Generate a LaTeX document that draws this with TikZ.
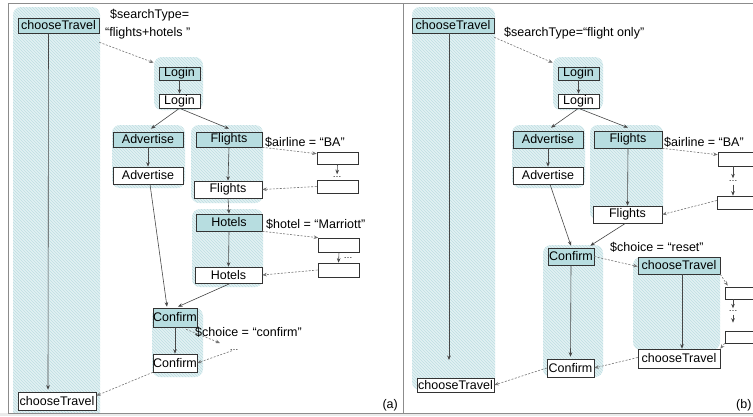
\documentclass[tikz,border=0pt]{standalone}
\usepackage{fontspec}
\setmainfont{Liberation Sans}
\usetikzlibrary{patterns,arrows.meta}

\begin{document}
\begin{tikzpicture}[x=1pt, y=-1pt,
  state/.style={draw=black!80, line width=0.6pt, inner sep=0pt, font=\fontsize{12.5}{14}\selectfont},
  act/.style={state, fill=stepfill},
  slot/.style={draw=black!80, line width=0.6pt, inner sep=0pt, minimum width=41, minimum height=13},
  flow/.style={->, >={Stealth[length=4.5pt,width=3.6pt]}, draw=black!72, line width=0.6pt},
  bind/.style={->, >={Stealth[length=4.5pt,width=3.6pt]}, draw=black!55, line width=0.6pt, dash pattern=on 2pt off 1.5pt},
  binding/.style={anchor=west, inner sep=0pt, font=\fontsize{12.5}{14}\selectfont},
  dots/.style={inner sep=0pt, font=\fontsize{9}{9}\selectfont},
  region/.style={fill=hatchbg, rounded corners=8pt, postaction={pattern=north west lines, pattern color=hatchln}}]

\definecolor{stepfill}{RGB}{183,221,224}
\definecolor{hatchbg}{RGB}{226,241,243}
\definecolor{hatchln}{RGB}{190,222,226}
\useasboundingbox (0,0) rectangle (753,416);

\fill[black!8] (0,413) rectangle (753,416);

\begin{scope}
\clip (8,3) rectangle (753,413);
\path[region] (13,7) rectangle (100,430);
\path[region] (154,57) rectangle (203,110);
\path[region] (112,125) rectangle (185,188);
\path[region] (191,125) rectangle (263,203);
\path[region] (192,209) rectangle (263,287);
\path[region] (152,308) rectangle (203,377);
\path[region] (412,7) rectangle (495,390);
\path[region] (553,57) rectangle (603,110);
\path[region] (512,125) rectangle (585,188);
\path[region] (590,125) rectangle (663,220);
\path[region] (543,245) rectangle (603,377);
\path[region] (633,257) rectangle (720,350);
\end{scope}

\draw[black!45, line width=0.8pt] (8,3) rectangle (760,413);
\draw[black!45, line width=0.8pt] (403,3) -- (403,413);

\node[act, minimum width=81, minimum height=15] (a_ct1) at (58.5,25.5) {chooseTravel};
\node[state, fill=white, minimum width=78, minimum height=18] (a_ct2) at (57,401) {chooseTravel};
\node[act, minimum width=41, minimum height=13] (a_lg1) at (179.5,73.5) {Login};
\node[state, fill=white, minimum width=41, minimum height=14] (a_lg2) at (179.5,101) {Login};
\node[act, minimum width=70, minimum height=15] (a_ad1) at (148,139.5) {Advertise};
\node[state, fill=white, minimum width=70, minimum height=17] (a_ad2) at (148,175.5) {Advertise};
\node[act, minimum width=66, minimum height=15] (a_fl1) at (229,139.5) {Flights};
\node[state, fill=white, minimum width=68, minimum height=17] (a_fl2) at (228,189.5) {Flights};
\node[act, minimum width=66, minimum height=17] (a_ho1) at (229,222.5) {Hotels};
\node[state, fill=white, minimum width=67, minimum height=16] (a_ho2) at (228.5,275) {Hotels};
\node[act, minimum width=42, minimum height=19] (a_cf1) at (175,317.5) {Confirm};
\node[state, fill=white, minimum width=42, minimum height=18] (a_cf2) at (175,363) {Confirm};

\node[slot, fill=white, minimum height=12] (a_s1) at (337.5,158) {};
\node[slot, fill=white] (a_s2) at (337.5,186.5) {};
\node[slot, fill=white, minimum height=14] (a_s3) at (339,245) {};
\node[slot, fill=white, minimum height=14] (a_s4) at (338.5,270) {};
\node[dots] (a_d1) at (337,177) {…};
\node[dots] (a_d2) at (348,258) {…};
\node[dots] (a_d3) at (234,350) {…};
\coordinate (a_x1) at (220,343);

\node[binding] (a_t1) at (110,15) {\$searchType=};
\node[binding] (a_t2) at (105,33) {“flights+hotels ”};
\node[binding] (a_t3) at (265,142) {\$airline = “BA”};
\node[binding] (a_t4) at (266,224) {\$hotel = “Marriott”};
\node[binding] (a_t5) at (195,332) {\$choice = “confirm”};
\node[anchor=east, inner sep=0pt, font=\fontsize{12.5}{14}\selectfont] (a_tag) at (398,405) {(a)};

\draw[flow] ([xshift=-10pt]a_ct1.south) -- ([xshift=-9pt,yshift=2pt]a_ct2.north);
\draw[flow] (a_lg1) -- (a_lg2);
\draw[flow] (a_lg2.south) -- ([xshift=3pt,yshift=3pt]a_ad1.north);
\draw[flow] (a_lg2.south) -- ([yshift=3pt]a_fl1.north);
\draw[flow] (a_ad1) -- (a_ad2);
\draw[flow] (a_fl1.south) -- (a_fl2.north);
\draw[flow] (a_fl2.south) -- (a_ho1.north);
\draw[flow] (a_ho1.south) -- (a_ho2.north);
\draw[flow] ([xshift=2pt]a_ad2.south) -- ([xshift=-8pt,yshift=1pt]a_cf1.north);
\draw[flow] ([xshift=2pt]a_ho2.south) -- ([xshift=3pt,yshift=1pt]a_cf1.north);
\draw[flow] (a_cf1) -- (a_cf2);
\draw[flow, shorten >=2pt] (a_s1.south) -- (a_d1.north);
\draw[flow] (a_s3.south) -- (a_s4.north);

\draw[bind] ([yshift=-9pt]a_ct1.south east) -- ([xshift=-5pt,yshift=4pt]a_lg1.north west);
\draw[bind] (a_fl1.south east) -- ([yshift=-2pt]a_s1.north west);
\draw[bind] (a_s2.west) -- (a_fl2.east);
\draw[bind] (a_ho1.south east) -- (a_s3.north west);
\draw[bind] (a_s4.west) -- (a_ho2.east);
\draw[bind] ([xshift=-11pt,yshift=-2pt]a_cf1.south east) -- (a_x1);
\draw[bind] (a_d3) -- (a_cf2.east);
\draw[bind] (a_cf2.south west) -- ([yshift=-4pt]a_ct2.north east);

\node[act, minimum width=82, minimum height=15] (b_ct1) at (453,25.5) {chooseTravel};
\node[state, fill=white, minimum width=77, minimum height=14] (b_ct2) at (455.5,385) {chooseTravel};
\node[act, minimum width=41, minimum height=13] (b_lg1) at (578.5,73.5) {Login};
\node[state, fill=white, minimum width=41, minimum height=14] (b_lg2) at (578.5,101) {Login};
\node[act, minimum width=70, minimum height=17] (b_ad1) at (548,139.5) {Advertise};
\node[state, fill=white, minimum width=70, minimum height=17] (b_ad2) at (548,175.5) {Advertise};
\node[act, minimum width=68, minimum height=17] (b_fl1) at (628,139.5) {Flights};
\node[state, fill=white, minimum width=69, minimum height=17] (b_fl2) at (627.5,214.5) {Flights};
\node[act, minimum width=46, minimum height=17] (b_cf1) at (571,256.5) {Confirm};
\node[state, fill=white, minimum width=47, minimum height=18] (b_cf2) at (570.5,368) {Confirm};
\node[act, minimum width=82, minimum height=17] (b_ct3) at (679,265.5) {chooseTravel};
\node[state, fill=white, minimum width=82, minimum height=19] (b_ct4) at (679,358.5) {chooseTravel};

\node[slot, fill=white, minimum height=14] (b_s1) at (738.5,159) {};
\node[slot, fill=white] (b_s2) at (737.5,202.5) {};
\node[slot, fill=white, minimum height=12] (b_s3) at (745.5,293) {};
\node[slot, fill=white, minimum height=12] (b_s4) at (745.5,337) {};
\node[dots] (b_d1) at (733,181) {…};
\node[dots] (b_d2) at (733,311) {…};
\coordinate (b_end) at (449,360);

\node[binding] (b_t1) at (504,33) {\$searchType=“flight only”};
\node[binding] (b_t2) at (664,142) {\$airline = “BA”};
\node[binding] (b_t3) at (610,247) {\$choice = “reset”};
\node[anchor=west, inner sep=0pt, font=\fontsize{12.5}{14}\selectfont] (b_tag) at (736,405) {(b)};

\draw[flow] ([xshift=-4pt]b_ct1.south) -- (b_end);
\draw[flow] (b_lg1) -- (b_lg2);
\draw[flow] (b_lg2.south) -- ([xshift=3pt,yshift=3pt]b_ad1.north);
\draw[flow] (b_lg2.south) -- ([yshift=3pt]b_fl1.north);
\draw[flow] (b_ad1) -- (b_ad2);
\draw[flow] (b_fl1.south) -- (b_fl2.north);
\draw[flow] ([xshift=2pt]b_ad2.south) -- ([yshift=2pt]b_cf1.north);
\draw[flow] ([xshift=-2pt]b_fl2.south) -- ([xshift=-4pt,yshift=2pt]b_cf1.north east);
\draw[flow] (b_cf1.south) -- ([yshift=2pt]b_cf2.north);
\draw[flow] ([xshift=3pt]b_ct3.south) -- ([xshift=3pt]b_ct4.north);
\draw[flow, shorten >=2pt] (b_s1.south -| b_d1.north) -- (b_d1.north);
\draw[flow] ([yshift=-3pt]b_d1.south) -- (b_s2.north -| b_d1.south);
\draw[flow, shorten >=2pt] (b_s3.south -| b_d2.north) -- (b_d2.north);
\draw[flow] ([yshift=-3pt]b_d2.south) -- ([yshift=8pt]b_s4.north -| b_d2.south);

\draw[bind] ([yshift=-4pt]b_ct1.south east) -- ([xshift=-5pt,yshift=4pt]b_lg1.north west);
\draw[bind] (b_fl1.south east) -- ([yshift=-3pt]b_s1.north west);
\draw[bind] ([yshift=2pt]b_s2.west) -- (b_fl2.east);
\draw[bind] (b_cf1.east) -- ([yshift=-1pt]b_ct3.west);
\draw[bind] (b_ct3.south east) -- ([xshift=3pt,yshift=1pt]b_s3.north west);
\draw[bind] (b_s4.south west) -- (b_ct4.north east);
\draw[bind] ([yshift=1pt]b_ct4.west) -- (b_cf2.east);
\draw[bind] (b_cf2.west) -- (b_ct2.east);

\end{tikzpicture}
\end{document}
